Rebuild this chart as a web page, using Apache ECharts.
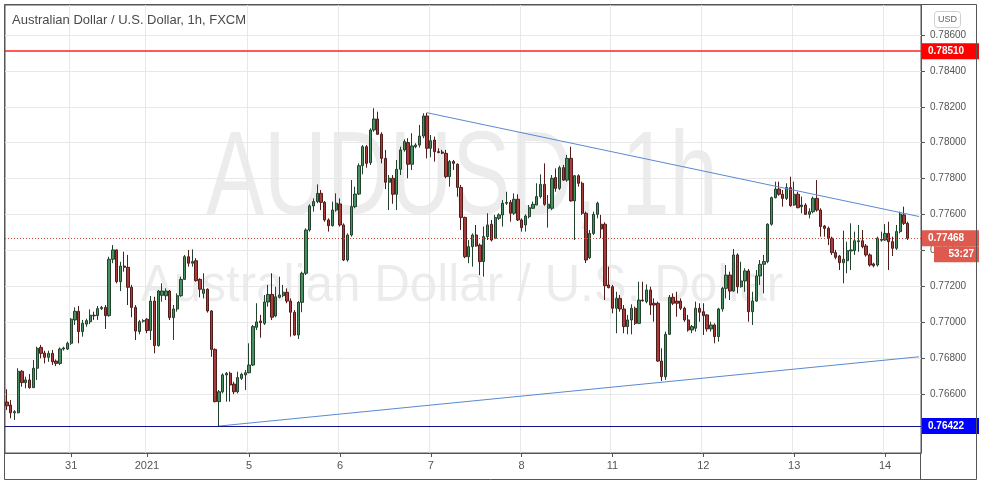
<!DOCTYPE html>
<html><head><meta charset="utf-8">
<script src="https://cdn.jsdelivr.net/npm/echarts@6.0.0/dist/echarts.min.js"></script>
<style>html,body{margin:0;padding:0;background:#fff}#main{width:982px;height:486px}</style>
</head><body><div id="main"></div>
<script>
// ---- data (AUD/USD 1h candles) ----
const opens = [
0.76556,0.76539,0.76496,0.76496,0.76727,0.76664,0.76679,0.76636,0.76744,0.76860,
0.76829,0.76805,0.76827,0.76784,0.76771,0.76851,0.76851,0.76883,0.77013,0.77061,
0.76948,0.76990,0.77003,0.77039,0.77037,0.77076,0.77083,0.77037,0.77351,0.77403,
0.77226,0.77313,0.77306,0.77195,0.77083,0.76948,0.77006,0.77017,0.76954,0.77118,
0.76870,0.77150,0.77148,0.77174,0.77026,0.77074,0.77148,0.77239,0.77365,0.77329,
0.77343,0.77239,0.77161,0.77184,0.77063,0.76849,0.76558,0.76613,0.76707,0.76716,
0.76656,0.76613,0.76688,0.76707,0.76719,0.76762,0.76972,0.77007,0.76994,0.77113,
0.77155,0.77035,0.77139,0.77148,0.77167,0.77118,0.77056,0.76929,0.77111,0.77273,
0.77514,0.77648,0.77672,0.77718,0.77668,0.77570,0.77538,0.77625,0.77659,0.77542,
0.77347,0.77486,0.77644,0.77714,0.77872,0.77978,0.77889,0.78071,0.78132,0.78047,
0.77913,0.77780,0.77802,0.77713,0.77852,0.77960,0.78001,0.77880,0.77978,0.77987,
0.78037,0.78149,0.77969,0.78015,0.77950,0.77948,0.77941,0.77811,0.77895,0.77880,
0.77751,0.77584,0.77365,0.77421,0.77486,0.77430,0.77338,0.77477,0.77546,0.77468,
0.77579,0.77598,0.77663,0.77668,0.77607,0.77685,0.77570,0.77542,0.77588,0.77635,
0.77653,0.77700,0.77768,0.77635,0.77635,0.77806,0.77746,0.77861,0.77792,0.77913,
0.77676,0.77816,0.77774,0.77607,0.77360,0.77495,0.77601,0.77546,0.77546,0.77208,
0.77198,0.77078,0.77133,0.77074,0.76976,0.77013,0.77078,0.76994,0.77124,0.77115,
0.77180,0.77106,0.77106,0.76784,0.76697,0.76933,0.77139,0.77118,0.77118,0.77078,
0.77013,0.76957,0.76967,0.77078,0.77059,0.77041,0.76963,0.76985,0.76920,0.77074,
0.77189,0.77263,0.77174,0.77375,0.77198,0.77230,0.77286,0.77059,0.77118,0.77258,
0.77323,0.77338,0.77546,0.77694,0.77742,0.77713,0.77690,0.77750,0.77653,0.77713,
0.77644,0.77653,0.77601,0.77616,0.77690,0.77625,0.77536,0.77523,0.77468,0.77388,
0.77369,0.77332,0.77343,0.77397,0.77399,0.77449,0.77454,0.77425,0.77375,0.77325,
0.77319,0.77457,0.77458,0.77495,0.77449,0.77412,0.77505,0.77598,0.77551];
const closes = [
0.76535,0.76496,0.76502,0.76727,0.76664,0.76679,0.76636,0.76744,0.76855,0.76827,
0.76805,0.76827,0.76780,0.76771,0.76851,0.76857,0.76883,0.77017,0.77061,0.76948,
0.76994,0.77009,0.77039,0.77036,0.77076,0.77083,0.77037,0.77351,0.77403,0.77226,
0.77313,0.77306,0.77195,0.77083,0.76951,0.77003,0.77009,0.76954,0.77118,0.76870,
0.77174,0.77174,0.77174,0.77026,0.77074,0.77148,0.77239,0.77365,0.77329,0.77338,
0.77232,0.77184,0.77184,0.77063,0.76849,0.76558,0.76613,0.76707,0.76716,0.76651,
0.76613,0.76692,0.76710,0.76719,0.76762,0.76976,0.77002,0.76998,0.77113,0.77155,
0.77028,0.77142,0.77152,0.77167,0.77118,0.77056,0.76929,0.77111,0.77273,0.77514,
0.77648,0.77672,0.77718,0.77668,0.77570,0.77538,0.77625,0.77663,0.77542,0.77347,
0.77486,0.77644,0.77714,0.77872,0.77978,0.77885,0.78071,0.78132,0.78047,0.77913,
0.77780,0.77802,0.77713,0.77852,0.77960,0.78006,0.77880,0.77982,0.77987,0.78037,
0.78149,0.77969,0.78011,0.77950,0.77946,0.77942,0.77811,0.77895,0.77885,0.77751,
0.77584,0.77365,0.77421,0.77486,0.77425,0.77338,0.77477,0.77542,0.77458,0.77583,
0.77598,0.77663,0.77668,0.77607,0.77685,0.77570,0.77527,0.77592,0.77638,0.77657,
0.77700,0.77768,0.77657,0.77657,0.77802,0.77746,0.77861,0.77792,0.77913,0.77676,
0.77816,0.77774,0.77607,0.77347,0.77495,0.77601,0.77663,0.77520,0.77204,0.77193,
0.77078,0.77133,0.77074,0.76976,0.77013,0.77078,0.76994,0.77124,0.77120,0.77180,
0.77096,0.77096,0.76784,0.76697,0.76933,0.77139,0.77106,0.77106,0.77078,0.77013,
0.76957,0.76976,0.77078,0.77056,0.77037,0.76963,0.76985,0.76920,0.77074,0.77189,
0.77263,0.77174,0.77375,0.77198,0.77230,0.77286,0.77059,0.77118,0.77258,0.77323,
0.77338,0.77546,0.77694,0.77742,0.77713,0.77690,0.77750,0.77649,0.77713,0.77638,
0.77653,0.77601,0.77616,0.77690,0.77625,0.77533,0.77523,0.77468,0.77388,0.77362,
0.77332,0.77351,0.77399,0.77403,0.77454,0.77454,0.77421,0.77375,0.77319,0.77315,
0.77468,0.77462,0.77495,0.77449,0.77412,0.77505,0.77603,0.77551,0.77468];
const lows = [
0.76511,0.76465,0.76456,0.76493,0.76641,0.76632,0.76630,0.76634,0.76679,0.76799,
0.76771,0.76780,0.76762,0.76756,0.76762,0.76842,0.76846,0.76874,0.76985,0.76883,
0.76920,0.76975,0.76990,0.77013,0.77013,0.77068,0.76963,0.77031,0.77329,0.77217,
0.77174,0.77282,0.77096,0.77028,0.76901,0.76933,0.76998,0.76939,0.76901,0.76827,
0.76864,0.77115,0.77124,0.77013,0.76901,0.77059,0.77142,0.77236,0.77310,0.77310,
0.77226,0.77139,0.77133,0.77054,0.76808,0.76554,0.76422,0.76604,0.76558,0.76558,
0.76600,0.76604,0.76679,0.76623,0.76716,0.76756,0.76957,0.76914,0.76985,0.77087,
0.77013,0.77028,0.77133,0.77139,0.77106,0.76920,0.76925,0.76907,0.77056,0.77263,
0.77505,0.77616,0.77663,0.77625,0.77560,0.77505,0.77533,0.77616,0.77533,0.77341,
0.77338,0.77477,0.77635,0.77709,0.77824,0.77861,0.77876,0.78061,0.78043,0.77885,
0.77742,0.77625,0.77660,0.77625,0.77820,0.77950,0.77802,0.77848,0.77969,0.77973,
0.78025,0.77913,0.77919,0.77895,0.77941,0.77937,0.77802,0.77755,0.77848,0.77700,
0.77514,0.77357,0.77329,0.77310,0.77421,0.77263,0.77254,0.77458,0.77450,0.77463,
0.77570,0.77533,0.77653,0.77560,0.77598,0.77564,0.77505,0.77505,0.77579,0.77631,
0.77653,0.77690,0.77649,0.77527,0.77625,0.77727,0.77737,0.77787,0.77783,0.77672,
0.77458,0.77755,0.77598,0.77330,0.77352,0.77486,0.77579,0.77468,0.77124,0.77189,
0.77050,0.76939,0.77059,0.76939,0.76933,0.76933,0.76985,0.76991,0.77115,0.77106,
0.77041,0.77003,0.76780,0.76673,0.76679,0.76929,0.77096,0.77031,0.77068,0.77003,
0.76948,0.76939,0.76948,0.77003,0.76929,0.76948,0.76948,0.76883,0.76892,0.77059,
0.77133,0.77124,0.77170,0.77161,0.77193,0.77170,0.77003,0.76985,0.77115,0.77208,
0.77161,0.77329,0.77538,0.77690,0.77705,0.77644,0.77681,0.77644,0.77649,0.77635,
0.77607,0.77598,0.77579,0.77607,0.77616,0.77477,0.77477,0.77430,0.77375,0.77351,
0.77291,0.77217,0.77273,0.77291,0.77375,0.77393,0.77412,0.77365,0.77310,0.77306,
0.77310,0.77449,0.77454,0.77291,0.77369,0.77403,0.77495,0.77542,0.77458];
const highs = [
0.76627,0.76567,0.76511,0.76744,0.76734,0.76697,0.76712,0.76790,0.76864,0.76874,
0.76842,0.76842,0.76846,0.76793,0.76860,0.76864,0.76892,0.77023,0.77083,0.77091,
0.77013,0.77020,0.77072,0.77059,0.77091,0.77091,0.77096,0.77365,0.77430,0.77406,
0.77337,0.77393,0.77375,0.77208,0.77096,0.77013,0.77017,0.77023,0.77146,0.77142,
0.77180,0.77217,0.77189,0.77180,0.77096,0.77161,0.77254,0.77375,0.77403,0.77406,
0.77357,0.77245,0.77273,0.77189,0.77068,0.76855,0.76623,0.76716,0.76723,0.76725,
0.76669,0.76725,0.76719,0.76734,0.76883,0.76985,0.77106,0.77041,0.77152,0.77208,
0.77273,0.77198,0.77254,0.77208,0.77189,0.77133,0.77068,0.77118,0.77282,0.77523,
0.77657,0.77690,0.77768,0.77737,0.77675,0.77579,0.77672,0.77718,0.77690,0.77551,
0.77495,0.77792,0.77755,0.77885,0.77987,0.77987,0.78080,0.78192,0.78173,0.78058,
0.77960,0.77820,0.77820,0.77904,0.77978,0.78019,0.78025,0.78053,0.77997,0.78099,
0.78164,0.78167,0.78043,0.78034,0.77969,0.77960,0.77960,0.77904,0.77904,0.77885,
0.77765,0.77588,0.77458,0.77495,0.77542,0.77439,0.77533,0.77607,0.77570,0.77598,
0.77607,0.77681,0.77727,0.77681,0.77718,0.77713,0.77579,0.77601,0.77653,0.77672,
0.77774,0.77824,0.77885,0.77709,0.77820,0.77857,0.77872,0.77876,0.77932,0.77978,
0.77820,0.77824,0.77783,0.77616,0.77514,0.77616,0.77672,0.77598,0.77557,0.77310,
0.77208,0.77170,0.77152,0.77096,0.77041,0.77100,0.77087,0.77226,0.77226,0.77211,
0.77198,0.77133,0.77115,0.76855,0.76948,0.77152,0.77161,0.77170,0.77133,0.77087,
0.77041,0.76985,0.77115,0.77106,0.77106,0.77044,0.77003,0.76994,0.77081,0.77198,
0.77319,0.77282,0.77408,0.77384,0.77337,0.77301,0.77297,0.77170,0.77291,0.77347,
0.77375,0.77551,0.77700,0.77783,0.77783,0.77737,0.77774,0.77811,0.77783,0.77727,
0.77700,0.77663,0.77635,0.77700,0.77792,0.77635,0.77542,0.77533,0.77477,0.77403,
0.77375,0.77510,0.77449,0.77551,0.77505,0.77542,0.77514,0.77436,0.77384,0.77332,
0.77477,0.77505,0.77547,0.77560,0.77477,0.77542,0.77616,0.77644,0.77560];

// hourly bar slots (last 3 are the empty right margin)
const categories = Array.from({length: 242}, (_, i) => 'h' + i);
const xTickIndex = [17, 37, 64, 88, 112, 136, 160, 184, 208, 232];
const xTickLabels = ['31', '2021', '5', '6', '7', '8', '11', '12', '13', '14'];
const yTicks = [0.766, 0.768, 0.770, 0.772, 0.774, 0.776, 0.778, 0.780, 0.782, 0.784, 0.786];

const resistance = 0.78510;
const support = 0.76422;
const lastPrice = 0.77468;
const countdown = '53:27';
const trendDown = [[111, 0.78167], [241, 0.77589]];
const trendUp = [[56, 0.76422], [241, 0.76808]];

// ---- chart ----
const ohlc = opens.map((o, i) => [o, closes[i], lows[i], highs[i]]);
const tickSet = new Set(xTickIndex);
const labelMap = {};
xTickIndex.forEach((k, j) => { labelMap[k] = xTickLabels[j]; });
const isTick = (i) => tickSet.has(i);

const FONT = '"Liberation Sans", Arial, sans-serif';
const boxRich = (bg) => ({
  a: {color: '#fff', backgroundColor: bg, fontSize: 10, fontWeight: 'bold', fontFamily: FONT,
      height: 16, lineHeight: 16, width: 45, padding: [0, 6, 0, 6]}
});
const levelLine = (value, color, boxColor, width) => ({
  type: 'line', data: [], silent: true, z: 3,
  markLine: {
    silent: true, symbol: ['none', 'none'], animation: false, precision: 5,
    lineStyle: {color: color, width: width, type: 'solid', opacity: 1},
    label: {show: true, position: 'end', distance: 1, formatter: '{a|' + value.toFixed(5) + '}', rich: boxRich(boxColor)},
    data: [{yAxis: value}]
  }
});

const chart = echarts.init(document.getElementById('main'), null, {renderer: 'canvas'});
chart.setOption({
  animation: false,
  backgroundColor: '#ffffff',
  title: {
    text: 'Australian Dollar / U.S. Dollar, 1h, FXCM',
    left: 7, top: 9,
    textStyle: {fontSize: 13, fontWeight: 'normal', color: '#4a4a4a', fontFamily: FONT}
  },
  graphic: [
    {type: 'text', x: 462, y: 181, scaleX: 0.73, z: -10, silent: true,
     style: {text: 'AUDUSD, 1h', fill: 'rgba(0,0,0,0.075)', font: '119px ' + FONT, textAlign: 'center', textVerticalAlign: 'middle'}},
    {type: 'text', x: 462, y: 287, scaleX: 0.95, z: -10, silent: true,
     style: {text: 'Australian Dollar / U.S. Dollar', fill: 'rgba(0,0,0,0.075)', font: '52px ' + FONT, textAlign: 'center', textVerticalAlign: 'middle'}},
    {type: 'rect', z: 50, silent: true, shape: {x: 4.5, y: 4.5, width: 972, height: 475},
     style: {fill: 'none', stroke: '#555', lineWidth: 1}},
    {type: 'line', z: 50, silent: true, shape: {x1: 920.5, y1: 453, x2: 920.5, y2: 480},
     style: {stroke: '#555', lineWidth: 1}},
    {type: 'rect', z: 50, silent: true, shape: {x: 934.5, y: 11.5, width: 26, height: 16, r: 3},
     style: {fill: '#fff', stroke: '#cfcfcf', lineWidth: 1}},
    {type: 'text', z: 51, silent: true, x: 947.5, y: 19.5,
     style: {text: 'USD', fill: '#666', font: '9px ' + FONT, textAlign: 'center', textVerticalAlign: 'middle'}}
  ],
  grid: {left: 5, right: 61, top: 5, bottom: 33, show: true, borderColor: '#555', borderWidth: 1},
  xAxis: {
    type: 'category', data: categories, boundaryGap: true,
    axisLine: {lineStyle: {color: '#555'}},
    axisTick: {show: true, alignWithLabel: true, interval: isTick, length: 4, lineStyle: {color: '#555'}},
    axisLabel: {interval: isTick, formatter: (v, i) => labelMap[i] || '', color: '#555', fontSize: 11, margin: 7, fontFamily: FONT},
    splitLine: {show: true, interval: isTick, lineStyle: {color: '#e8e8e8'}}
  },
  yAxis: {
    type: 'value', position: 'right', min: 0.76272, max: 0.78767,
    axisLine: {show: true, lineStyle: {color: '#555'}},
    axisTick: {show: true, customValues: yTicks, length: 4, lineStyle: {color: '#555'}},
    axisLabel: {customValues: yTicks, formatter: v => v.toFixed(5), color: '#555', fontSize: 10, margin: 9, fontFamily: FONT},
    splitLine: {show: true, lineStyle: {color: '#e8e8e8'}}
  },
  series: [{
    type: 'candlestick',
    data: ohlc,
    barWidth: 2.8,
    itemStyle: {color: '#479160', color0: '#a83c3a', borderColor: '#22422d', borderColor0: '#521c1a', borderWidth: 1},
    markLine: {
      silent: true, symbol: ['none', 'none'], animation: false, precision: 5,
      data: [
        {yAxis: lastPrice, lineStyle: {color: '#c8483e', width: 1, type: [1, 2]},
         label: {show: true, position: 'end', distance: 1,
           formatter: '{e|' + lastPrice.toFixed(5) + '}\n{a|' + lastPrice.toFixed(5) + '}\n{b|' + countdown + '}',
           rich: {
             e: {color: 'rgba(0,0,0,0)', fontSize: 10, height: 16, lineHeight: 16},
             a: {color: '#fff', backgroundColor: '#df5a4e', fontSize: 10, fontWeight: 'bold', fontFamily: FONT, height: 16, lineHeight: 16, width: 45, padding: [0, 6, 0, 6]},
             b: {color: '#fff', backgroundColor: '#df5a4e', fontSize: 10, fontWeight: 'bold', fontFamily: FONT, height: 16, lineHeight: 16, width: 34, padding: [0, 5, 0, 6], align: 'right'}
           }}},
        [{coord: [categories[trendDown[0][0]], trendDown[0][1]], lineStyle: {color: '#5a8ad0', width: 1, type: 'solid'}, label: {show: false}},
         {coord: [categories[trendDown[1][0]], trendDown[1][1]]}],
        [{coord: [categories[trendUp[0][0]], trendUp[0][1]], lineStyle: {color: '#5a8ad0', width: 1, type: 'solid'}, label: {show: false}},
         {coord: [categories[trendUp[1][0]], trendUp[1][1]]}]
      ]
    }
  },
  levelLine(resistance, '#ff2020', '#ff0000', 1.6),
  levelLine(support, '#12128a', '#0000ff', 1)
  ]
});
</script></body></html>
